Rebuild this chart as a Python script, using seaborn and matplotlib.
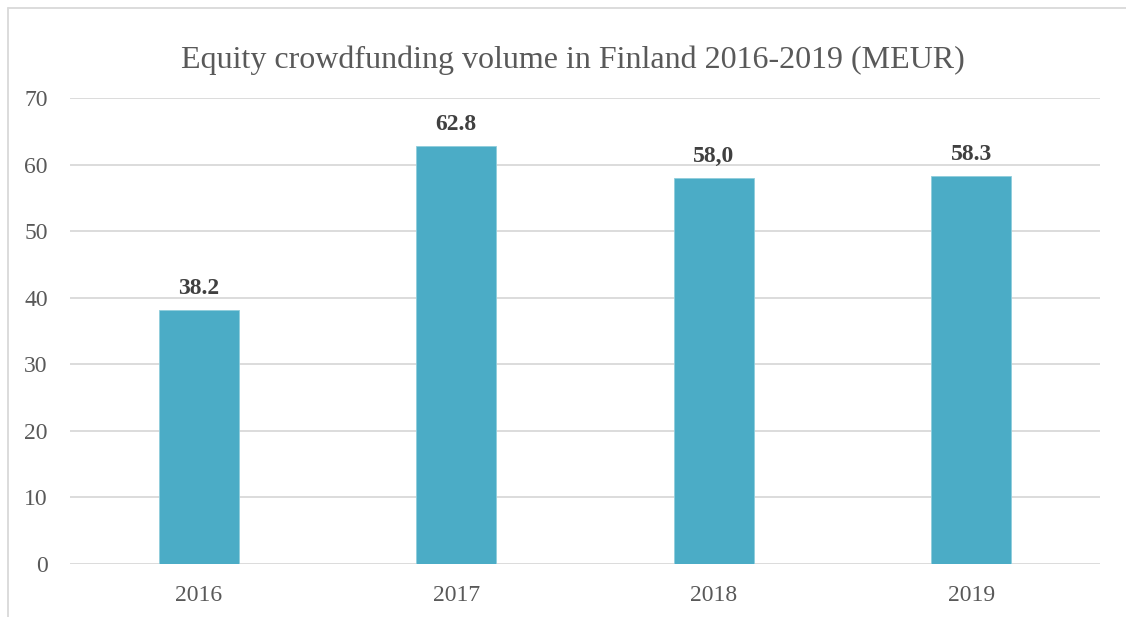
import matplotlib
matplotlib.use("Agg")
import matplotlib.pyplot as plt
import seaborn as sns
import pandas as pd
from matplotlib.lines import Line2D

years = ["2016", "2017", "2018", "2019"]
volumes = [38.2, 62.8, 58.0, 58.3]
value_labels = ["38.2", "62.8", "58,0", "58.3"]
yticks = [0, 10, 20, 30, 40, 50, 60, 70]
title = "Equity crowdfunding volume in Finland 2016-2019 (MEUR)"

sns.set_theme(style="white")
plt.rcParams["font.family"] = ["Liberation Serif", "DejaVu Serif"]

df = pd.DataFrame({"year": years, "volume": volumes})

fig = plt.figure(figsize=(11.26, 6.17), dpi=100)
ax = fig.add_axes([70 / 1126, 1 - 564 / 617, 1030 / 1126, 466 / 617])

sns.barplot(data=df, x="year", y="volume", color="#4BACC6", saturation=1,
            width=0.31, ax=ax, zorder=3, edgecolor="#8FCDDC", linewidth=0.6)

ax.set_ylim(0, 70)
ax.set_yticks(yticks)
ax.set_yticklabels([str(t) for t in yticks], fontsize=17, color="#595959")
ax.set_xticklabels(years, fontsize=17, color="#595959")
ax.tick_params(axis="both", length=0)
ax.tick_params(axis="x", pad=15)
ax.tick_params(axis="y", pad=16)
ax.set_xlabel("")
ax.set_ylabel("")
ax.grid(axis="y", color="#D9D9D9", linewidth=1.3, zorder=0)
for s in ax.spines.values():
    s.set_visible(False)
ax.set_xlim(-0.5, 3.5)

for i, (v, lab) in enumerate(zip(volumes, value_labels)):
    ax.annotate(lab, (i, v), xytext=(0, 8), textcoords="offset points",
                ha="center", va="bottom", fontsize=17, fontweight="bold",
                color="#404040")

fig.text(573 / 1126, 1 - 60 / 617, title, ha="center", va="center",
         fontsize=23, color="#595959")

fig.add_artist(Line2D([8 / 1126, 1], [1 - 8 / 617, 1 - 8 / 617],
                      transform=fig.transFigure, color="#D9D9D9", linewidth=1.3))
fig.add_artist(Line2D([8 / 1126, 8 / 1126], [0, 1 - 8 / 617],
                      transform=fig.transFigure, color="#D9D9D9", linewidth=1.3))

fig.savefig("out.png", dpi=100, facecolor="white")
